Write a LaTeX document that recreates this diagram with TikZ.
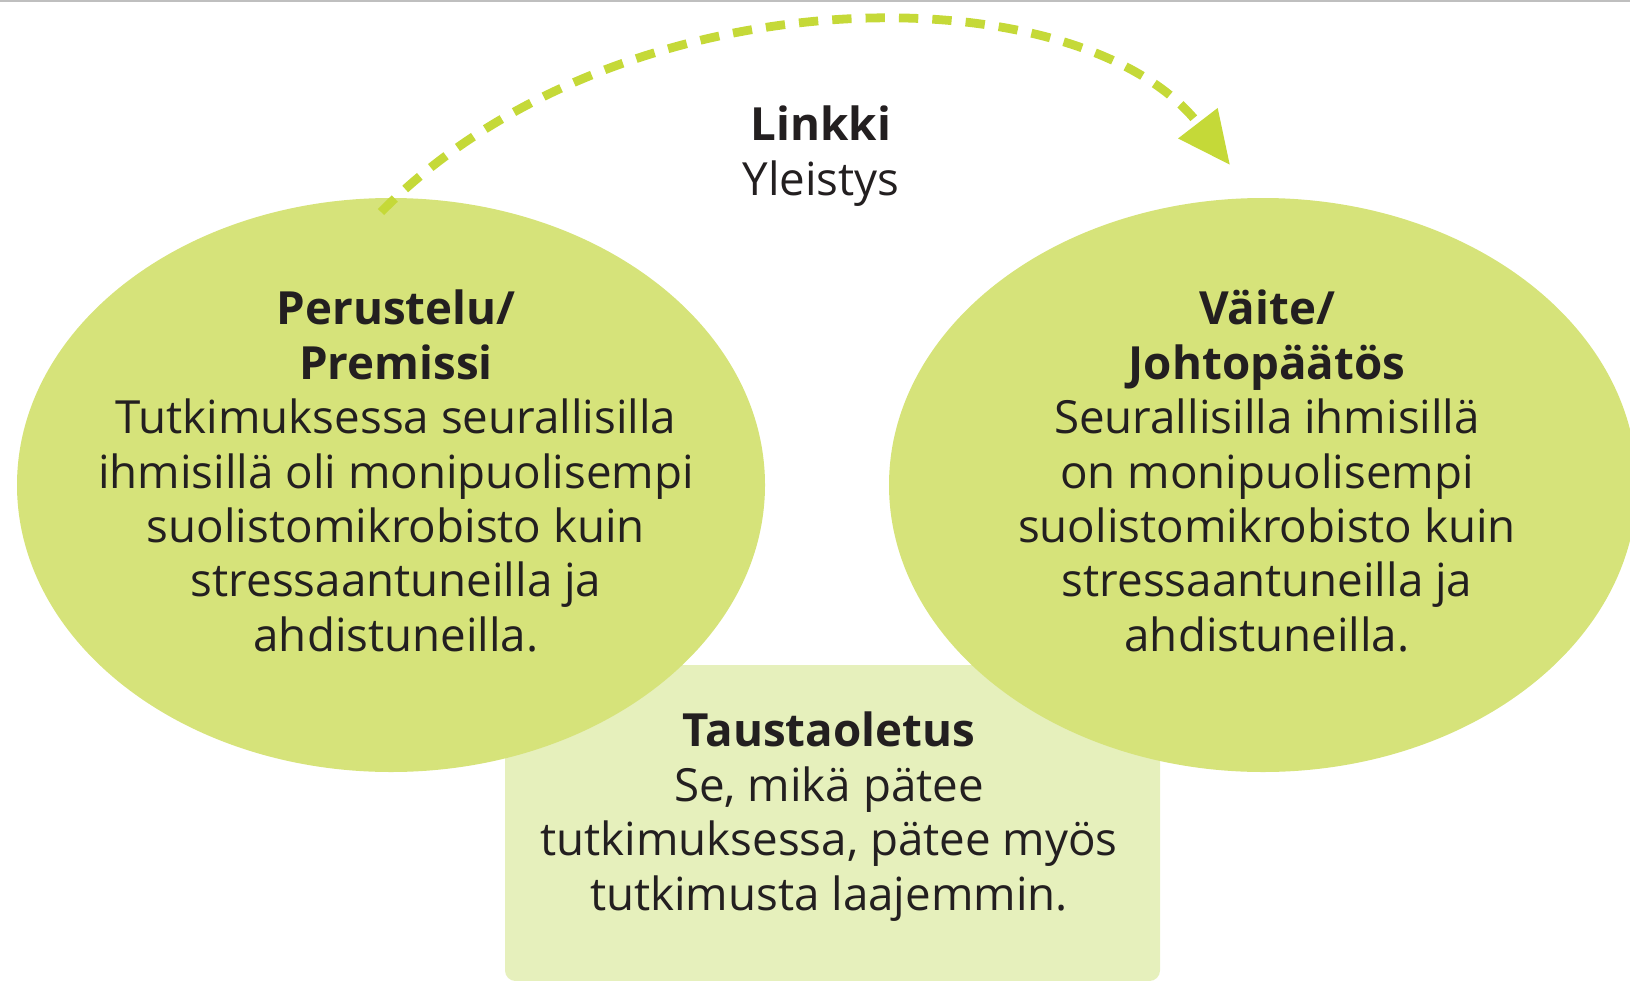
\documentclass[tikz,border=0pt]{standalone}
\usepackage{fontspec}
\setmainfont{Open Sans}
\usetikzlibrary{shapes.geometric,arrows.meta}
\definecolor{oval}{RGB}{214,227,122}
\definecolor{pale}{RGB}{230,240,188}
\definecolor{lime}{RGB}{197,217,56}
\definecolor{ink}{RGB}{35,31,32}
\begin{document}
\begin{tikzpicture}[
  oval/.style={ellipse, fill=oval, inner sep=0pt, minimum width=14.96cm, minimum height=11.48cm},
  txt/.style={align=center, text=ink, font=\fontsize{26}{31}\selectfont},
  link/.style={lime, line width=5pt, dash pattern=on 11pt off 8pt, -{Triangle[length=30pt,width=27pt]}}
]
\useasboundingbox (0,0) rectangle (32.6,-19.6);
\draw[gray!50, line width=0.04cm] (0,-0.02) -- (32.6,-0.02);
% background assumption box
\fill[pale, rounded corners=6pt] (10.1,-13.3) rectangle (23.2,-19.62);
\node[oval] (premissi) at (7.82,-9.7) {};
\node[oval] (vaite) at (25.26,-9.7) {};
\node[txt] (premissitxt) at (7.92,-9.42) {\textbf{Perustelu/}\\\textbf{Premissi}\\Tutkimuksessa seurallisilla\\ihmisillä oli monipuolisempi\\suolistomikrobisto kuin\\stressaantuneilla ja\\ahdistuneilla.};
\node[txt] (vaitetxt) at (25.34,-9.42) {\textbf{Väite/}\\\textbf{Johtopäätös}\\Seurallisilla ihmisillä\\on monipuolisempi\\suolistomikrobisto kuin\\stressaantuneilla ja\\ahdistuneilla.};
\node[txt] (taustatxt) at (16.58,-16.33) {\textbf{Taustaoletus}\\Se, mikä pätee\\tutkimuksessa, pätee myös\\tutkimusta laajemmin.};
\node[txt] (linkki) at (16.42,-3.12) {\textbf{Linkki}\\Yleistys};
% dashed link arrow
\coordinate (alku) at (7.62,-4.24);
\coordinate (loppu) at (24.6,-3.3);
\draw[link] (alku) .. controls (12.4,0.6) and (21.6,0.6) .. (loppu);
\end{tikzpicture}
\end{document}
